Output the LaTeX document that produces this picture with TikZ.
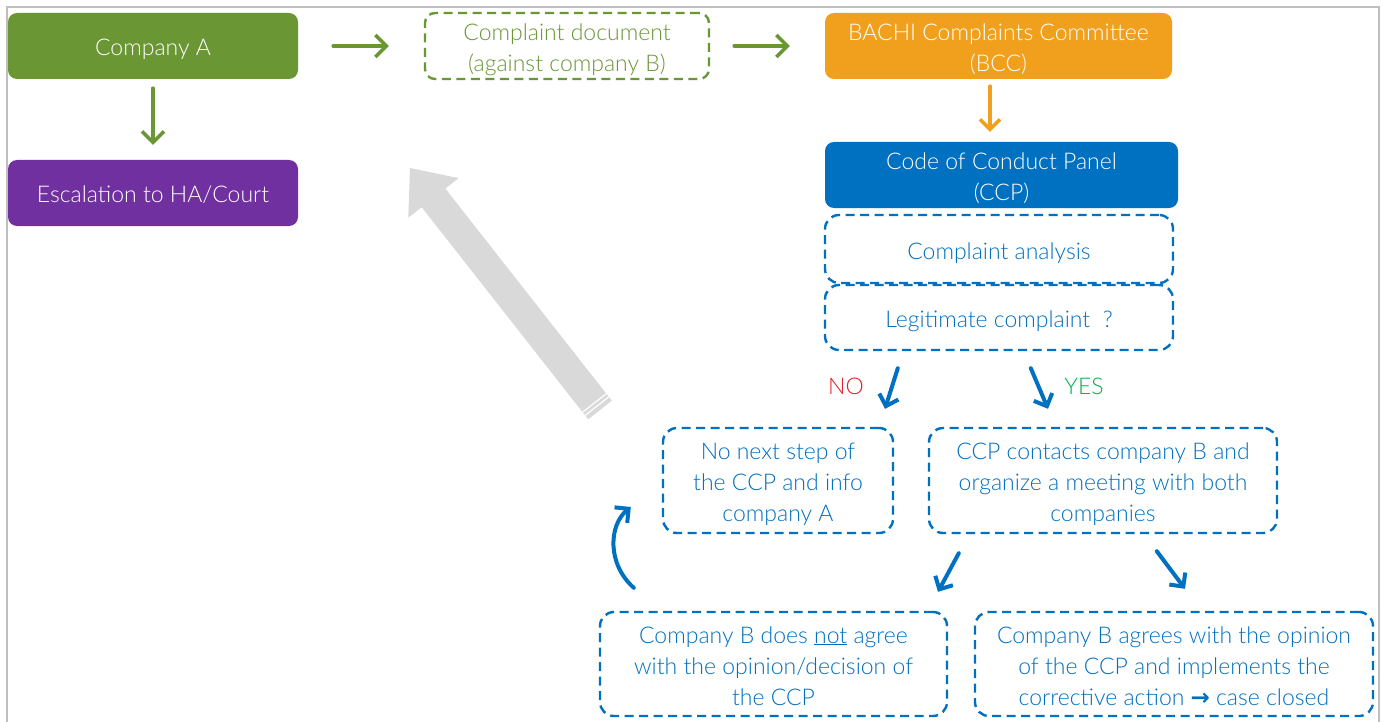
\documentclass[tikz,border=0pt]{standalone}
\usepackage{fontspec}
\setmainfont{Lato Light}
\newfontfamily\symfont{DejaVu Sans}
\usetikzlibrary{arrows.meta,calc}
\definecolor{cgreen}{RGB}{106,150,52}
\definecolor{cpurple}{RGB}{112,48,160}
\definecolor{corange}{RGB}{241,160,30}
\definecolor{cblue}{RGB}{0,112,192}
\definecolor{cred}{RGB}{230,30,40}
\definecolor{cyes}{RGB}{0,176,80}
\definecolor{cgray}{RGB}{217,217,217}
\definecolor{cframe}{RGB}{191,191,191}
\newcommand{\topst}{\rule{0pt}{26pt}}
\newcommand{\botst}{\rule[-6pt]{0pt}{1pt}}
\tikzset{
  txt/.style={align=center, inner sep=0pt},
  fillbox/.style={txt, rounded corners=9pt, minimum height=66pt, text=white},
  dbox/.style={txt, draw=cblue, line width=2.4pt, dash pattern=on 9pt off 5.5pt, rounded corners=14pt, text=cblue},
  gbox/.style={txt, draw=cgreen, line width=2.4pt, dash pattern=on 9pt off 5.5pt, rounded corners=10pt, text=cgreen},
  garrow/.style={draw=cgreen, line width=3.5pt, line cap=round, -{Straight Barb[length=11pt,width=22pt]}},
  oarrow/.style={draw=corange, line width=3.5pt, line cap=round, -{Straight Barb[length=10pt,width=20pt]}},
  barrow/.style={draw=cblue, line width=4pt, line cap=round, -{Straight Barb[length=10pt,width=20pt]}},
  lbl/.style={inner sep=0pt}
}
\begin{document}
\begin{tikzpicture}[x=1pt,y=-1pt,font=\fontsize{23}{31}\selectfont]
\useasboundingbox (0,0) rectangle (1383,722);
\fill[white] (0,0) rectangle (1383,722);
\draw[cframe, line width=2pt] (7,725) -- (7,7) -- (1379,7) -- (1379,725);

% big gray striped arrow
\fill[cgray] (588.2,419.3) -- (421.7,207.2) -- (408.3,217.7) -- (410,168) -- (458.7,178.1) -- (445.3,188.6) -- (611.8,400.7) -- cycle;
\draw[white, line width=1.2pt] (585.1,415.4) -- (608.7,396.9);
\draw[white, line width=1.2pt] (582.6,412.2) -- (606.2,393.7);

\node[fillbox, fill=cgreen, minimum width=290pt] (ca) at (153,46) {\topst Company A\botst};
\node[fillbox, fill=cpurple, minimum width=290pt] (esc) at (153,193) {\topst Escalation to HA/Court\botst};
\node[gbox, minimum width=284pt, minimum height=66pt] (cd) at (567,46) {\topst Complaint document\\(against company B)\botst};
\node[fillbox, fill=corange, minimum width=347pt] (bcc) at (998.5,46) {\topst BACHI Complaints Committee\\(BCC)\botst};
\node[fillbox, fill=cblue, minimum width=353pt] (ccp) at (1001.5,175) {\topst Code of Conduct Panel\\(CCP)\botst};
\node[dbox, minimum width=348pt, minimum height=68pt] (ana) at (999,249) {\topst Complaint analysis\botst};
\node[dbox, minimum width=348pt, minimum height=65pt] (leg) at (999,317.5) {\topst Legitimate complaint~~?\botst};
\node[dbox, minimum width=230pt, minimum height=105pt] (nn) at (778,480.5) {\topst No next step of\\the CCP and info\\company A\botst};
\node[dbox, minimum width=348pt, minimum height=105pt] (ct) at (1103,480.5) {\topst CCP contacts company B and\\organize a meeting with both\\companies\botst};
\node[dbox, minimum width=347pt, minimum height=104pt] (na) at (773.5,664) {\topst Company B does \underline{not} agree\\with the opinion/decision of\\the CCP\botst};
\node[dbox, minimum width=398pt, minimum height=104pt] (ag) at (1174,664) {\topst Company B agrees with the opinion\\of the CCP and implements the\\corrective action {\symfont\bfseries →} case closed\botst};
\node[lbl, text=cred] (no) at (846,386) {NO};
\node[lbl, text=cyes] (yes) at (1084,386) {YES};

\draw[garrow, shorten <=35pt, shorten >=35pt] (ca.east) -- (cd.west);
\draw[garrow, shorten <=9pt, shorten >=15pt] (ca.south) -- (esc.north);
\draw[garrow, shorten <=24pt, shorten >=35pt] (cd.east) -- (bcc.west);
\draw[oarrow, shorten <=7pt, shorten >=10pt] ([xshift=-8.5pt]bcc.south) -- ([xshift=-11.5pt]ccp.north);

\draw[barrow] ($(leg.south west)+(74,17)$) -- ($(nn.north)+(107,-18)$);
\draw[barrow] ($(leg.south west)+(207,17)$) -- ($(ct.north)+(-55,-18)$);
\draw[barrow] ($(ct.south west)+(31,19)$) -- ($(na.north)+(164.5,-19)$);
\draw[barrow] ($(ct.south west)+(229,17)$) -- ($(ag.north)+(11,-22)$);
\draw[barrow] ($(na.north west)+(35,-23)$) .. controls ($(na.north west)+(8,-47)$) and ($(nn.west)+(-53,44.5)$) .. ($(nn.west)+(-31,26.5)$);
\end{tikzpicture}
\end{document}
